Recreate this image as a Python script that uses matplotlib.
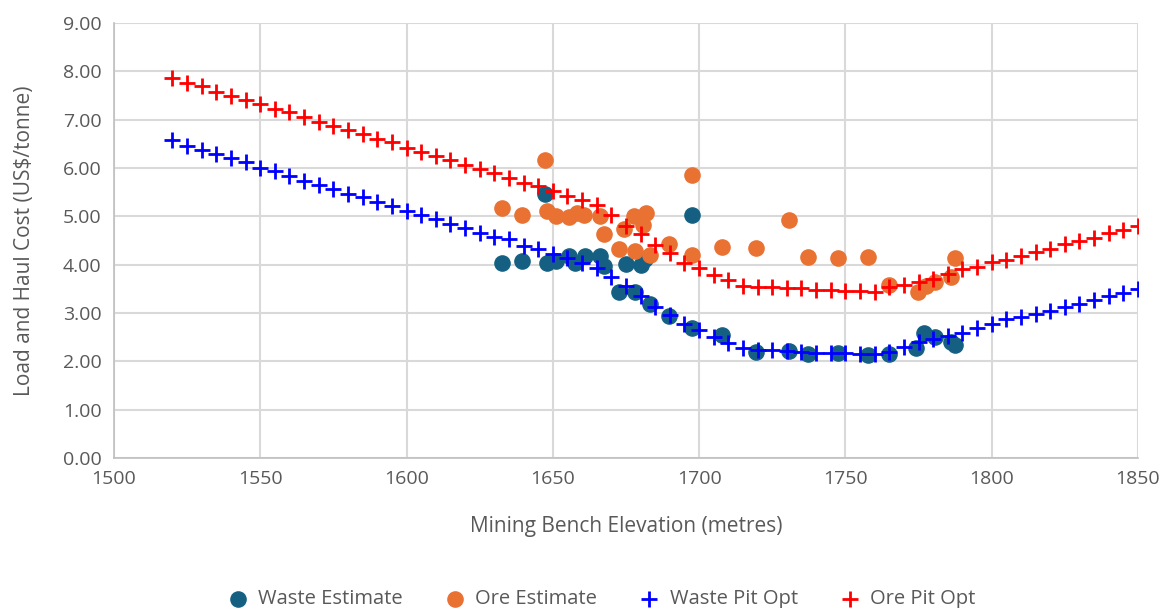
import matplotlib
matplotlib.use("Agg")
import matplotlib.pyplot as plt
import numpy as np

# bench elevations for the pit optimiser curves (every 5 m)
opt_elev = list(range(1520, 1855, 5))

waste_opt = [6.57, 6.46, 6.38, 6.29, 6.20, 6.13, 6.00, 5.93, 5.84, 5.74,
             5.65, 5.56, 5.47, 5.40, 5.29, 5.21, 5.10, 5.03, 4.94, 4.84,
             4.76, 4.66, 4.58, 4.53, 4.39, 4.32, 4.22, 4.13, 4.03, 3.93,
             3.75, 3.55, 3.34, 3.13, 2.96, 2.77, 2.64, 2.51, 2.37, 2.27,
             2.24, 2.24, 2.22, 2.20, 2.18, 2.18, 2.17, 2.15, 2.15, 2.20,
             2.30, 2.39, 2.46, 2.53, 2.59, 2.69, 2.77, 2.87, 2.91, 2.98,
             3.05, 3.13, 3.19, 3.27, 3.34, 3.41, 3.49]

ore_opt = [7.86, 7.76, 7.69, 7.57, 7.50, 7.41, 7.32, 7.23, 7.15, 7.05,
           6.96, 6.86, 6.79, 6.71, 6.60, 6.53, 6.41, 6.34, 6.25, 6.16,
           6.07, 5.98, 5.89, 5.79, 5.69, 5.62, 5.53, 5.42, 5.33, 5.23,
           5.03, 4.80, 4.64, 4.41, 4.24, 4.04, 3.92, 3.78, 3.69, 3.56,
           3.53, 3.53, 3.51, 3.51, 3.48, 3.48, 3.46, 3.46, 3.44, 3.53,
           3.58, 3.65, 3.71, 3.81, 3.90, 3.96, 4.05, 4.10, 4.17, 4.26,
           4.33, 4.42, 4.49, 4.55, 4.65, 4.71, 4.79]

# estimated costs per bench
waste_x = [1632.8, 1639.3, 1647.3, 1648.0, 1651.1, 1655.6, 1657.6, 1661.0,
           1666.1, 1667.5, 1672.7, 1675.0, 1678.0, 1680.0, 1681.5, 1683.2,
           1689.8, 1697.7, 1697.7, 1707.7, 1719.6, 1730.8, 1737.3, 1747.5,
           1757.8, 1765.0, 1774.3, 1776.8, 1780.6, 1786.0, 1787.4]
waste_y = [4.04, 4.07, 5.47, 4.04, 4.07, 4.17, 4.04, 4.17,
           4.17, 3.97, 3.44, 4.02, 3.44, 4.00, 4.12, 3.19,
           2.94, 5.03, 2.69, 2.55, 2.20, 2.22, 2.15, 2.17,
           2.13, 2.15, 2.27, 2.58, 2.50, 2.39, 2.34]

ore_x = [1632.8, 1639.3, 1647.3, 1647.9, 1651.1, 1655.6, 1658.1, 1660.6,
         1666.1, 1667.5, 1672.7, 1674.3, 1677.7, 1678.0, 1680.7, 1681.8,
         1683.2, 1689.8, 1697.7, 1697.7, 1707.7, 1719.6, 1730.8, 1737.3,
         1747.5, 1757.8, 1765.0, 1774.9, 1777.7, 1780.6, 1786.0, 1787.4]
ore_y = [5.17, 5.03, 6.16, 5.10, 5.01, 4.98, 5.07, 5.03,
         5.01, 4.64, 4.32, 4.73, 5.01, 4.29, 4.82, 5.07,
         4.20, 4.43, 5.86, 4.20, 4.37, 4.34, 4.93, 4.15,
         4.13, 4.15, 3.58, 3.44, 3.55, 3.65, 3.75, 4.13]

plt.rcParams['font.family'] = ['Open Sans', 'DejaVu Sans']

fig = plt.figure(figsize=(11.7, 6.08), dpi=100)
ax = fig.add_axes([0.0974, 0.247, 0.8752, 0.715])

ax.scatter(waste_x, waste_y, s=120, color="#156082", zorder=3, label="Waste Estimate")
ax.scatter(ore_x, ore_y, s=120, color="#E97132", zorder=3, label="Ore Estimate")
ax.scatter(opt_elev, waste_opt, marker="+", s=120, linewidths=2, color="#0000FF",
           zorder=4, label="Waste Pit Opt")
ax.scatter(opt_elev, ore_opt, marker="+", s=120, linewidths=2, color="#FF0000",
           zorder=4, label="Ore Pit Opt")

ax.set_xlim(1500, 1850)
ax.set_ylim(0, 9)
ax.set_xticks(np.arange(1500, 1851, 50))
ax.set_yticks(np.arange(0, 9.1, 1))
ax.set_yticklabels([f"{v:.2f}" for v in np.arange(0, 9.1, 1)])

ax.grid(True, color="#D9D9D9", linewidth=1.5)
ax.set_axisbelow(True)
for side in ["top", "right"]:
    ax.spines[side].set_visible(False)
for side in ["left", "bottom"]:
    ax.spines[side].set_color("#BFBFBF")
    ax.spines[side].set_linewidth(1.2)
ax.tick_params(length=0, labelsize=14, colors="#595959", pad=9)

ax.set_xlabel("Mining Bench Elevation (metres)", fontsize=15, color="#595959", labelpad=20)
ax.set_ylabel("Load and Haul Cost (US$/tonne)", fontsize=15, color="#595959", labelpad=20)

fig.legend(loc="lower center", bbox_to_anchor=(0.51, -0.032), ncol=4, frameon=False,
           fontsize=14.5, labelcolor="#595959", handletextpad=0.0, columnspacing=1.6,
           markerscale=1.0)

fig.savefig("out.png", dpi=100)
